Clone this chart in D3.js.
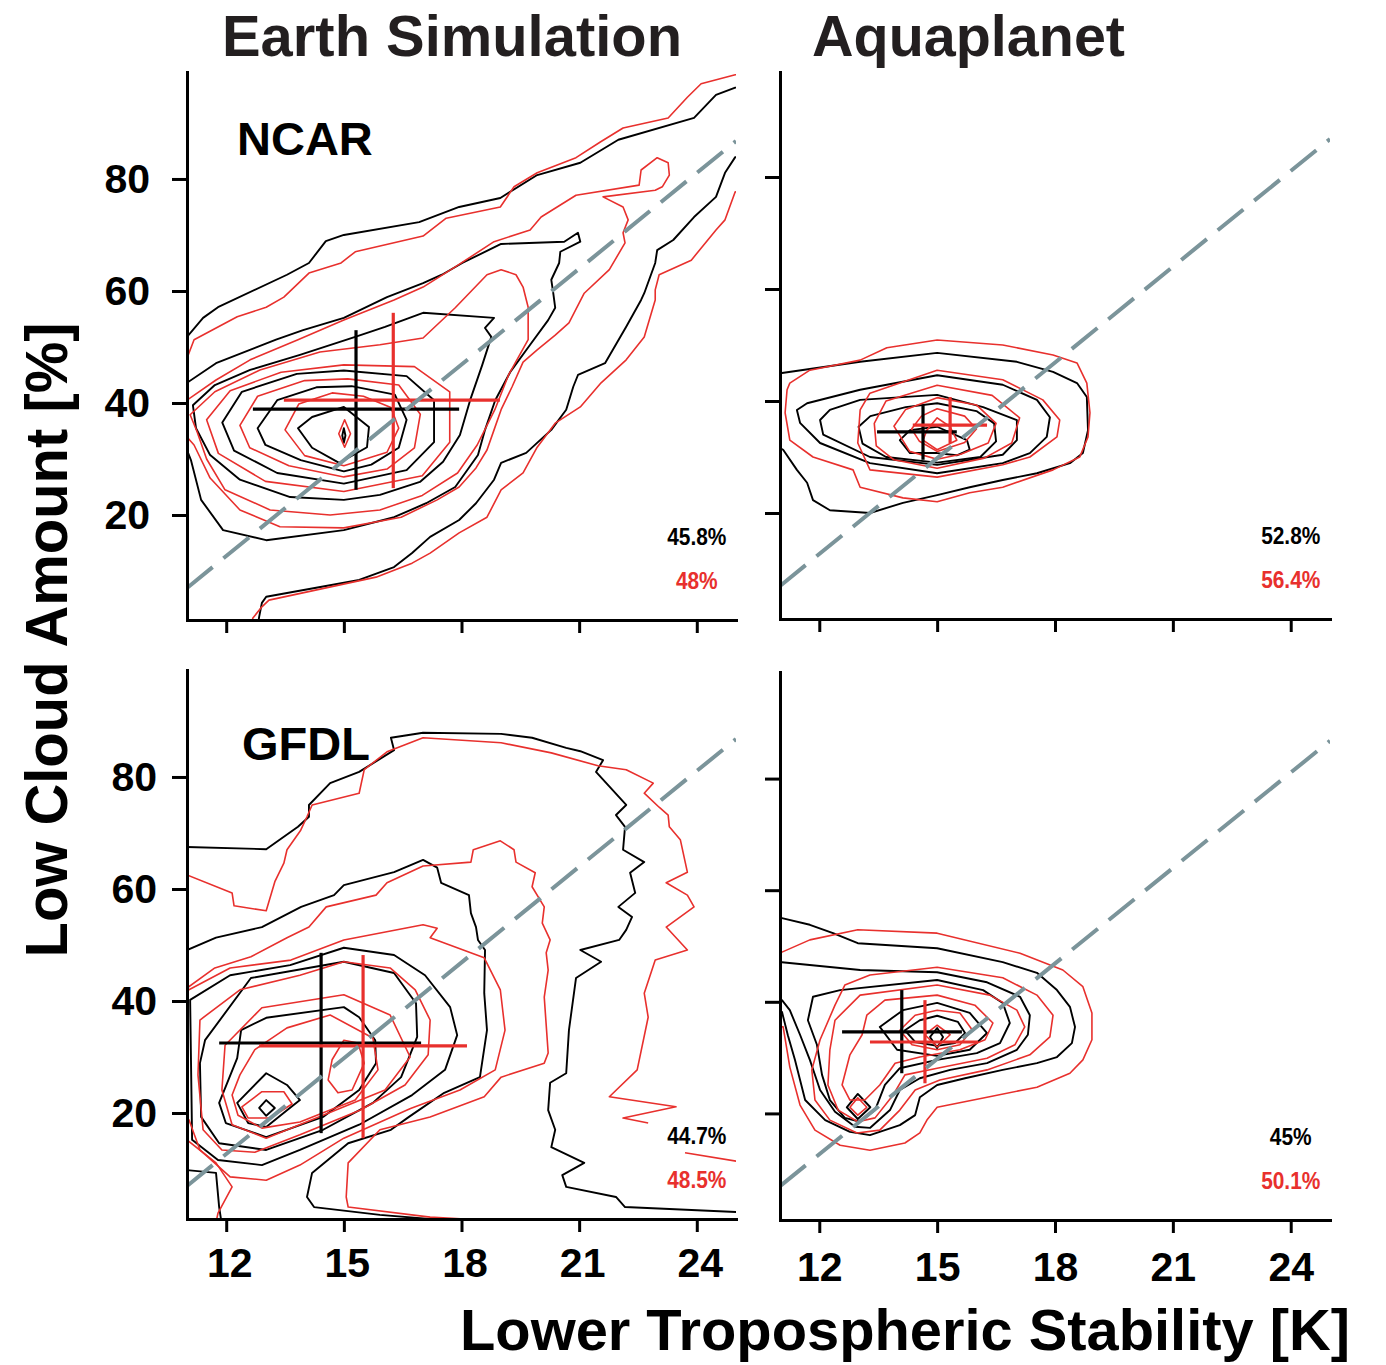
<!DOCTYPE html>
<html>
<head>
<meta charset="utf-8">
<script src="https://cdn.jsdelivr.net/npm/d3@7"></script>
<style>
  body { margin: 0; background: #fff; }
  svg text { font-family: "Liberation Sans", Arial, Helvetica, sans-serif; font-weight: bold; }
</style>
</head>
<body>
<svg id="chart" width="1386" height="1365"></svg>
<script>
// ---------- shared values ----------
var xTicks = [12, 15, 18, 21, 24];
var yTicks = [20, 40, 60, 80];
var columnTitles = ["Earth Simulation", "Aquaplanet"];
var modelNames = ["NCAR", "GFDL"];
var pctBlack = ["45.8%", "52.8%", "44.7%", "45%"];
var pctRed = ["48%", "56.4%", "48.5%", "50.1%"];
// Klein & Hartmann line, end points in (LTS, low cloud)
var klLine = [[11, 6.97], [25, 86.77]];

// crosshairs: [meanLTS, meanLCA, ltsLo, ltsHi, lcaLo, lcaHi]
var crossBlack = [
  [15.31, 38.9, 12.68, 17.94, 24.5, 53.0],
  [14.64, 34.5, 13.47, 15.5, 29.5, 39.3],
  [14.42, 32.5, 11.82, 16.97, 16.4, 48.6],
  [14.1, 34.6, 12.58, 15.63, 27.2, 42.1]
];
var crossRed = [
  [16.26, 40.5, 13.47, 18.98, 24.8, 56.1],
  [15.33, 35.7, 14.38, 16.27, 32.5, 40.7],
  [15.49, 32.0, 12.84, 18.14, 15.5, 48.2],
  [14.69, 32.8, 13.29, 16.04, 25.4, 40.3]
];

// ---------- NCAR, Earth simulation ----------
var ncarEarthBlackLines = [
  [[10.9,51.6],[11.0,51.8],[11.41,55.2],[11.79,57.1],[13.55,62.9],[14.11,65.0],[14.54,68.9],[15.0,70.0],[16.92,72.3],[17.94,75.0],[18.99,76.6],[19.93,80.7],[21.03,82.9],[22.0,87.0],[23.93,90.9],[24.49,95.0],[24.98,96.3],[25.6,97.3]],
  [[25.6,84.0],[24.98,83.9],[24.72,81.1],[24.49,76.8],[23.93,73.2],[23.4,69.1],[22.99,67.3],[22.94,65.0],[22.66,59.6],[22.58,58.4],[22.2,53.6],[21.66,47.1],[20.97,45.0],[20.85,42.9],[20.67,38.8],[20.29,35.2],[19.65,31.1],[19.01,29.3],[18.83,26.3],[18.37,22.1],[17.94,19.1],[17.2,16.1],[16.74,13.2],[16.28,10.7],[15.39,8.4],[13.02,5.4],[12.91,4.3],[12.84,1.8],[12.79,-0.5]],
  [[10.9,43.5],[11.0,43.6],[11.74,47.1],[13.27,51.3],[13.96,53.0],[15.0,55.2],[16.1,58.9],[17.02,61.4],[17.5,62.9],[18.02,65.0],[19.01,68.4],[20.62,68.8],[20.97,70.4],[21.03,68.8],[20.52,67.0],[20.49,65.0],[20.29,62.0],[20.34,59.6],[20.39,57.0],[20.21,54.8],[19.75,50.4],[19.24,45.5],[18.86,40.5],[18.6,35.2],[18.42,30.7],[17.84,25.0],[17.1,22.1],[16.28,19.6],[15.0,17.3],[13.02,15.5],[11.92,17.3],[11.36,22.7],[11.1,29.8],[11.0,31.6],[10.9,31.7]]
];
var ncarEarthBlackRings = [
  [[11.15,39.6],[11.71,43.2],[12.61,45.9],[13.88,48.6],[15.29,51.8],[16.05,53.6],[17.02,56.1],[18.83,55.2],[18.6,53.4],[18.76,51.8],[18.53,46.8],[18.22,40.5],[17.96,34.3],[17.53,29.5],[16.94,25.9],[15.92,23.6],[15.0,22.7],[13.63,23.2],[12.35,26.3],[11.59,30.7],[11.23,35.5]],
  [[11.9,36.5],[12.4,42.0],[13.8,45.2],[15.0,45.8],[16.6,44.8],[17.3,40.5],[17.3,33.0],[16.6,28.0],[15.0,25.6],[13.3,27.5],[12.2,31.5]],
  [[12.8,35.5],[13.3,40.5],[14.3,42.8],[15.2,43.0],[16.3,41.5],[16.6,37.0],[16.4,32.0],[15.7,29.0],[15.0,27.8],[13.9,29.8],[13.0,32.5]],
  [[13.83,35.5],[14.19,37.5],[15.0,39.3],[15.64,35.7],[15.59,32.1],[14.88,29.3],[14.19,32.0]],
  [[15.0,35.5],[15.04,34.2],[15.0,32.9],[14.96,34.2]]
];
var ncarEarthRedLines = [
  [[10.9,47.9],[11.0,48.0],[11.18,51.3],[12.28,55.4],[13.02,57.1],[13.47,58.9],[14.11,63.2],[14.93,65.0],[15.29,67.0],[17.02,69.8],[17.61,73.0],[18.99,75.0],[19.34,78.6],[19.93,81.1],[20.92,83.8],[21.54,86.6],[22.12,89.1],[23.27,90.9],[23.76,94.6],[24.11,97.0],[24.98,98.6],[25.6,99.5]],
  [[25.6,76.6],[24.98,77.7],[24.72,72.7],[24.49,70.9],[23.86,65.5],[23.04,62.9],[22.94,60.2],[22.94,58.4],[22.66,51.8],[22.2,47.7],[21.56,43.6],[21.03,39.3],[20.39,36.4],[19.93,32.1],[19.57,27.5],[19.01,24.5],[18.65,19.6],[17.94,16.8],[17.2,13.2],[16.74,11.4],[15.82,8.9],[13.09,4.8],[12.91,3.6],[12.68,1.6],[12.6,-0.5]],
  [[10.9,40.4],[11.0,40.5],[11.74,44.1],[12.61,47.7],[13.83,51.3],[15.0,54.8],[16.28,58.4],[17.02,60.7],[17.84,64.3],[18.83,68.8],[19.75,70.9],[20.03,73.2],[20.92,77.1],[22.53,78.9],[22.58,81.6],[22.99,83.8],[23.27,82.9],[23.3,80.7],[23.12,78.6],[22.94,78.0],[21.61,76.8],[22.12,75.0],[22.25,72.7],[22.12,70.4],[22.17,68.6],[21.77,63.8],[21.13,59.6],[20.74,54.3],[20.39,52.1],[19.93,49.5],[19.57,47.3],[19.29,42.9],[19.01,38.8],[18.83,35.2],[18.65,31.6],[18.37,28.4],[17.94,25.0],[17.38,22.7],[16.46,19.6],[15.0,17.7],[13.37,17.9],[12.35,20.9],[11.59,26.6],[11.18,32.5],[11.0,33.9],[10.9,34.0]]
];
var ncarEarthRedRings = [
  [[11.08,37.9],[11.71,42.0],[12.86,45.9],[14.39,49.1],[15.92,50.4],[17.02,51.6],[17.84,57.0],[18.65,62.9],[19.01,63.8],[19.39,62.9],[19.57,60.7],[19.7,57.1],[19.7,51.3],[19.2,45.0],[18.85,38.8],[18.4,32.5],[17.9,27.5],[17.0,23.5],[15.92,20.9],[14.65,20.0],[13.12,20.9],[11.97,24.5],[11.5,30.0],[11.25,35.0]],
  [[11.5,37.0],[12.1,42.2],[13.4,45.5],[15.0,46.8],[16.8,46.5],[17.7,42.0],[17.7,33.0],[17.0,27.0],[15.0,24.2],[13.0,26.0],[11.8,31.0]],
  [[12.35,36.0],[12.8,41.2],[14.0,44.0],[15.1,44.3],[16.4,43.2],[16.95,38.0],[16.8,32.0],[16.1,28.2],[15.0,26.8],[13.6,28.8],[12.6,32.0]],
  [[13.5,35.2],[13.85,39.8],[14.7,41.8],[15.5,41.2],[16.2,39.2],[16.4,35.5],[16.1,31.2],[15.0,28.8],[14.0,30.6]],
  [[14.87,34.5],[15.02,37.0],[15.17,34.5],[15.02,32.1]]
];

// ---------- NCAR, Aquaplanet ----------
var ncarAquaBlackLines = [
  [[10.9,45.0],[11.05,45.0],[13.04,47.0],[15.0,48.6],[17.03,47.0],[17.95,45.2],[18.56,43.2],[18.81,40.7],[18.84,34.8],[18.71,30.7],[18.38,28.9],[17.54,27.1],[16.67,25.9],[15.83,24.6],[15.0,23.2],[14.13,21.8],[13.29,20.0],[12.27,20.5],[11.84,22.3],[11.69,25.4],[11.43,27.7],[11.08,31.3],[10.9,32.0]]
];
var ncarAquaBlackRings = [
  [[11.43,38.4],[11.69,39.6],[13.04,42.0],[15.0,44.6],[16.67,42.9],[17.54,40.2],[17.87,37.1],[17.79,33.6],[17.36,30.7],[16.67,28.9],[15.0,27.1],[13.29,28.9],[12.02,32.5],[11.51,36.1]],
  [[12.02,36.6],[12.27,38.4],[13.04,40.2],[15.0,41.1],[16.17,38.9],[17.03,36.6],[17.03,33.0],[16.67,30.4],[15.0,28.6],[13.29,30.0],[12.1,34.0]],
  [[13.0,35.4],[13.3,37.3],[14.2,38.9],[15.0,39.6],[16.0,38.2],[16.45,36.0],[16.5,32.8],[16.1,30.0],[15.0,29.0],[13.7,30.0],[13.1,32.4]],
  [[14.05,33.0],[14.31,34.8],[15.0,35.4],[15.76,33.0],[15.83,31.3],[15.5,30.3],[15.0,30.7],[14.31,30.7]]
];
var ncarAquaRedLines = [];
var ncarAquaRedRings = [
  [[11.25,43.2],[11.76,45.5],[13.04,47.3],[13.72,49.5],[15.0,50.9],[16.67,50.0],[17.95,48.2],[18.56,46.8],[18.81,43.2],[18.89,37.9],[18.84,33.6],[18.63,30.0],[17.95,27.7],[16.67,24.6],[15.83,23.6],[15.0,22.0],[14.13,22.7],[13.04,24.6],[12.86,27.7],[11.84,30.0],[11.25,33.0],[11.13,37.9],[11.18,42.0]],
  [[13.04,38.4],[13.29,41.4],[15.0,45.5],[16.67,43.8],[17.69,40.2],[18.12,36.6],[18.05,33.6],[17.36,30.0],[16.67,28.6],[15.0,26.4],[13.29,27.7],[12.98,32.5]],
  [[13.4,36.0],[13.7,40.0],[15.0,42.8],[16.4,41.0],[17.1,37.0],[16.9,32.5],[16.2,29.8],[15.0,28.0],[13.9,29.5],[13.45,32.0]],
  [[13.9,35.5],[14.2,38.5],[15.0,40.6],[16.0,39.3],[16.5,36.0],[16.3,32.5],[15.6,30.5],[15.0,29.6],[14.3,31.0]],
  [[14.35,35.0],[14.6,37.3],[15.0,38.6],[15.7,37.3],[16.0,35.0],[15.7,32.6],[15.0,31.0],[14.55,32.8]],
  [[14.74,34.8],[15.0,37.0],[15.33,35.4],[15.5,33.0],[15.0,31.3],[14.64,33.0]]
];

// ---------- GFDL, Earth simulation ----------
var gfdlEarthBlackLines = [
  [[10.9,67.5],[11.0,67.5],[13.02,67.1],[13.83,71.1],[14.11,72.9],[14.11,75.0],[14.65,78.9],[15.39,80.9],[16.28,84.8],[16.2,87.0],[17.02,87.9],[19.01,87.7],[19.8,87.0],[20.67,85.2],[21.03,84.6],[21.61,83.0],[21.43,80.9],[22.2,75.0],[21.94,73.2],[22.17,71.1],[22.12,67.0],[22.66,64.8],[22.3,62.9],[22.43,59.3],[22.0,56.8],[22.35,55.0],[22.2,52.7],[22.02,50.9],[21.03,49.1],[21.56,47.0],[20.92,44.1],[20.74,34.8],[20.67,27.1],[20.26,25.4],[20.21,20.5],[20.39,17.0],[20.29,13.9],[21.13,11.1],[20.57,8.9],[20.67,6.8],[21.94,5.0],[22.17,3.2],[25.03,2.3],[25.5,2.2]],
  [[10.9,49.2],[11.0,49.1],[11.74,51.3],[12.91,53.2],[13.91,56.8],[14.75,58.9],[15.0,60.7],[16.28,63.0],[17.02,65.2],[17.38,63.8],[17.48,61.1],[18.19,58.9],[18.24,55.7],[18.37,53.2],[18.42,50.9],[18.6,49.1],[18.58,41.4],[18.65,34.8],[18.47,26.4],[17.56,23.6],[16.66,19.3],[16.2,17.0],[15.11,14.6],[14.19,9.3],[14.06,5.0],[14.24,3.2],[15.92,1.8],[18.2,0.5]],
  [[10.9,9.8],[11.0,9.8],[11.74,9.3],[11.82,3.2],[11.9,-0.5]]
];
var gfdlEarthBlackRings = [
  [[11.08,40.2],[12.1,44.6],[13.63,46.4],[15.0,49.5],[16.28,48.2],[17.07,44.6],[17.71,38.9],[17.89,33.9],[17.58,27.7],[16.74,23.2],[15.39,17.9],[13.88,13.4],[12.91,10.7],[11.79,11.6],[11.13,15.2]],
  [[11.46,33.0],[12.63,44.1],[15.0,47.0],[16.28,45.0],[16.84,39.6],[16.87,33.6],[16.46,26.4],[15.74,21.8],[14.47,17.0],[13.02,13.4],[11.82,14.6],[11.36,19.3],[11.33,28.9]],
  [[12.38,34.8],[13.02,37.0],[15.0,38.9],[15.39,37.1],[15.8,33.0],[15.82,28.9],[15.39,24.1],[14.47,19.3],[13.02,15.7],[11.99,18.2],[11.82,21.8],[12.28,29.8]],
  [[12.28,21.8],[13.02,27.1],[13.55,25.0],[13.88,22.3],[13.55,20.5],[13.02,17.5],[12.56,18.2]],
  [[12.84,20.9],[13.02,22.3],[13.24,20.9],[13.02,19.5]]
];
var gfdlEarthRedLines = [
  [[10.9,62.7],[11.0,62.5],[12.15,59.3],[12.2,57.0],[13.02,56.1],[13.24,61.3],[13.47,64.6],[13.55,67.0],[13.9,70.5],[14.06,72.9],[14.19,75.0],[15.39,77.1],[15.52,81.3],[16.1,84.5],[17.02,87.0],[19.01,86.1],[20.29,84.3],[21.48,82.0],[22.2,81.3],[22.89,78.9],[22.66,77.1],[23.04,74.6],[23.27,73.2],[23.3,71.1],[23.58,68.8],[23.76,63.0],[23.22,61.1],[23.76,58.9],[23.93,56.8],[23.22,53.2],[23.76,49.1],[22.94,47.3],[22.66,41.4],[22.76,37.1],[22.48,27.7],[21.77,22.9],[23.47,21.1],[22.12,19.1],[22.76,18.2]],
  [[23.7,12.9],[25.1,11.3]],
  [[10.9,42.4],[11.0,42.3],[11.71,45.9],[12.63,47.9],[13.55,51.3],[14.11,53.2],[14.55,56.8],[15.82,58.9],[16.1,61.1],[17.02,64.1],[18.24,64.8],[18.3,67.0],[18.99,68.6],[19.34,67.0],[19.39,64.8],[19.88,62.9],[19.8,60.4],[20.11,56.8],[20.06,53.9],[20.26,50.9],[20.16,48.6],[20.21,45.5],[20.11,40.7],[20.21,30.7],[20.11,28.9],[19.01,26.4],[18.58,22.9],[17.2,19.3],[15.92,17.0],[15.11,11.1],[15.06,5.0],[15.11,3.2],[17.2,1.4],[19.5,0.5]],
  [[10.9,15.3],[11.0,15.2],[11.74,11.1],[12.15,6.8],[11.79,2.1],[11.71,-0.5]],
  [[10.9,42.1],[11.05,42.0],[12.1,45.9],[13.65,47.3],[15.0,50.9],[17.02,53.6],[17.38,53.0],[17.2,51.3],[18.58,47.7],[18.99,42.0],[19.11,34.8],[18.86,27.7],[17.96,24.1],[16.7,20.8],[15.0,15.5],[13.88,10.7],[13.02,8.0],[12.1,8.6],[11.33,13.4],[11.05,18.8],[10.9,19.0]]
];
var gfdlEarthRedRings = [
  [[11.33,36.6],[12.35,42.0],[13.88,44.6],[15.0,47.0],[16.18,45.9],[16.82,42.0],[17.2,36.6],[17.15,30.4],[16.56,25.0],[15.41,20.5],[13.88,16.1],[12.73,13.0],[11.89,13.4],[11.41,17.0],[11.28,26.8]],
  [[11.97,32.1],[12.91,38.8],[15.0,41.1],[16.18,37.5],[16.69,30.0],[16.05,24.1],[14.47,19.6],[13.02,15.5],[12.15,17.9],[11.89,24.1]],
  [[12.35,26.8],[12.73,31.3],[13.55,35.2],[14.65,37.5],[15.74,33.4],[15.87,27.7],[15.29,22.3],[13.88,18.4],[12.91,17.3],[12.3,19.6],[12.15,23.2]],
  [[14.7,29.5],[15.0,33.0],[15.36,32.5],[15.52,28.9],[15.21,24.1],[14.85,23.6],[14.6,25.9]],
  [[12.4,21.1],[12.91,23.8],[13.47,23.8],[13.68,21.6],[13.12,19.1],[12.56,19.1]]
];

// ---------- GFDL, Aquaplanet ----------
var gfdlAquaBlackLines = [
  [[10.9,55.2],[11.05,55.0],[11.76,53.8],[12.35,52.3],[12.98,50.5],[15.0,49.6],[16.67,47.1],[17.54,45.2],[18.05,42.1],[18.38,39.1],[18.51,35.5],[18.43,32.6],[18.05,30.1],[17.54,29.0],[16.67,27.8],[15.71,26.3],[15.0,25.1],[14.56,22.9],[14.44,19.7],[14.05,17.9],[13.29,16.1],[12.78,16.7],[12.15,18.8],[11.64,22.4],[11.38,29.6],[11.2,34.0],[11.05,38.2],[10.9,38.3]],
  [[10.9,47.2],[11.05,47.1],[13.04,45.7],[15.0,45.3],[16.27,43.5],[17.11,40.9],[17.36,37.6],[17.31,34.1],[17.03,31.4],[16.27,29.0],[15.33,27.8],[14.56,26.3],[14.05,24.2],[13.8,20.6],[13.29,17.4],[12.91,17.6],[12.4,20.3],[12.02,24.2],[11.76,29.6],[11.51,34.1],[11.25,38.5],[11.05,40.3],[10.9,40.4]]
];
var gfdlAquaBlackRings = [
  [[11.84,40.9],[12.53,42.1],[15.0,43.9],[16.17,42.1],[16.67,39.8],[16.85,36.2],[16.6,32.6],[16.01,30.8],[15.0,29.6],[14.05,28.1],[13.67,25.1],[13.42,20.6],[13.04,18.5],[12.65,19.2],[12.27,22.4],[12.07,26.9],[11.94,32.3],[11.71,36.7]],
  [[13.54,35.5],[14.13,38.5],[15.0,39.8],[15.83,38.0],[16.27,34.4],[15.83,31.4],[15.0,30.3],[13.98,31.4]],
  [[14.18,34.9],[14.56,36.7],[15.0,37.5],[15.53,36.4],[15.71,34.4],[15.45,32.6],[15.0,32.1],[14.44,32.8]],
  [[14.82,33.7],[15.0,35.3],[15.15,33.7],[15.0,31.7]],
  [[12.7,21.1],[12.98,23.5],[13.3,21.1],[12.98,19.0]]
];
var gfdlAquaRedLines = [
  [[10.9,48.8],[11.05,48.9],[11.76,51.1],[12.98,52.9],[15.0,52.3],[17.11,48.7],[18.2,45.7],[18.71,42.7],[18.94,38.0],[18.94,33.2],[18.71,29.6],[18.38,27.2],[17.54,24.7],[16.27,22.9],[15.0,21.1],[14.74,18.8],[14.56,16.5],[14.18,14.7],[13.29,13.4],[12.53,14.3],[11.89,17.0],[11.51,21.5],[11.25,28.3],[11.08,35.5],[10.9,35.6]]
];
var gfdlAquaRedRings = [
  [[12.65,43.0],[13.29,44.8],[15.0,46.2],[16.67,44.3],[17.54,41.2],[17.95,37.6],[17.87,33.7],[17.36,30.5],[16.27,27.8],[15.07,26.0],[14.44,24.2],[14.05,20.6],[13.54,17.0],[12.96,16.5],[12.27,18.8],[11.89,22.4],[11.81,27.8],[12.02,33.2],[12.4,39.4]],
  [[12.4,36.7],[13.04,41.2],[15.0,43.0],[16.34,41.2],[17.03,38.5],[17.23,35.5],[16.98,32.3],[16.27,29.9],[15.0,28.1],[14.18,26.9],[13.88,23.3],[13.42,19.2],[12.98,18.5],[12.48,20.6],[12.22,25.1],[12.27,31.4]],
  [[13.21,37.6],[13.67,40.3],[15.0,41.2],[15.96,39.4],[16.42,36.2],[16.22,33.2],[15.58,31.4],[14.56,30.1],[13.93,29.0],[13.54,25.1],[13.16,22.4],[12.78,22.4],[12.58,25.1],[12.78,30.5],[13.09,34.1]],
  [[14.05,34.9],[14.44,37.6],[15.0,38.5],[15.58,38.0],[15.89,35.0],[15.58,32.3],[15.0,31.4],[14.36,32.3]],
  [[14.69,34.1],[15.0,35.8],[15.33,34.1],[15.0,31.9]],
  [[12.78,21.1],[12.98,22.8],[13.21,21.1],[12.98,19.7]]
];

// ---------- layout ----------
var panels = [
  { left: 187, right: 736, top: 72, bottom: 620, yLo: 1.25, yHi: 99.1, yLabels: true, xLabels: false, yPad: 22, xPad: 16, dx: 0 },
  { left: 780, right: 1330, top: 72, bottom: 619, yLo: 1.07, yHi: 98.75, yLabels: false, xLabels: false, yPad: 22, xPad: 16, dx: 0 },
  { left: 187, right: 736, top: 670, bottom: 1219, yLo: 1.07, yHi: 99.1, yLabels: true, xLabels: true, yPad: 15, xPad: 16, dx: 3 },
  { left: 780, right: 1330, top: 672, bottom: 1220, yLo: 0.9, yHi: 99.1, yLabels: false, xLabels: true, yPad: 15, xPad: 19, dx: 0 }
];
var contourSets = [
  { bl: ncarEarthBlackLines, br: ncarEarthBlackRings, rl: ncarEarthRedLines, rr: ncarEarthRedRings },
  { bl: ncarAquaBlackLines, br: ncarAquaBlackRings, rl: ncarAquaRedLines, rr: ncarAquaRedRings },
  { bl: gfdlEarthBlackLines, br: gfdlEarthBlackRings, rl: gfdlEarthRedLines, rr: gfdlEarthRedRings },
  { bl: gfdlAquaBlackLines, br: gfdlAquaBlackRings, rl: gfdlAquaRedLines, rr: gfdlAquaRedRings }
];

var INK = "#000000", RED = "#e8302d", SLATE = "#7b949a", TITLE = "#231f20";
var FONT = '"Liberation Sans", Arial, Helvetica, sans-serif';

var svg = d3.select("#chart");
var defs = svg.append("defs");

panels.forEach(function(p, i) {
  var x = d3.scaleLinear().domain([11, 25]).range([p.left, p.right]);
  var y = d3.scaleLinear().domain([p.yLo, p.yHi]).range([p.bottom, p.top]);
  var openLine = d3.line().x(d => x(d[0])).y(d => y(d[1]));
  var ringLine = d3.line().x(d => x(d[0])).y(d => y(d[1])).curve(d3.curveLinearClosed);

  defs.append("clipPath").attr("id", "clip" + i)
    .append("rect")
    .attr("x", p.left).attr("y", p.top - 4)
    .attr("width", p.right - p.left).attr("height", p.bottom - p.top + 4);

  var plot = svg.append("g").attr("clip-path", "url(#clip" + i + ")");
  var set = contourSets[i];

  // contours: black first, red on top
  [[set.bl, set.br, INK, 1.9], [set.rl, set.rr, RED, 1.6]].forEach(function(s) {
    plot.selectAll(null).data(s[0]).enter().append("path")
      .attr("d", openLine)
      .attr("fill", "none").attr("stroke", s[2]).attr("stroke-width", s[3])
      .attr("stroke-linejoin", "round");
    plot.selectAll(null).data(s[1]).enter().append("path")
      .attr("d", ringLine)
      .attr("fill", "none").attr("stroke", s[2]).attr("stroke-width", s[3])
      .attr("stroke-linejoin", "round");
  });

  // mean +/- spread crosses
  [[crossBlack[i], INK], [crossRed[i], RED]].forEach(function(c) {
    var v = c[0];
    plot.append("line")
      .attr("x1", x(v[2])).attr("x2", x(v[3]))
      .attr("y1", y(v[1])).attr("y2", y(v[1]))
      .attr("stroke", c[1]).attr("stroke-width", 3.2);
    plot.append("line")
      .attr("x1", x(v[0])).attr("x2", x(v[0]))
      .attr("y1", y(v[4])).attr("y2", y(v[5]))
      .attr("stroke", c[1]).attr("stroke-width", 3.2);
  });

  // Klein-Hartmann reference line
  plot.append("path").datum(klLine)
    .attr("d", openLine)
    .attr("fill", "none").attr("stroke", SLATE)
    .attr("stroke-width", 4).attr("stroke-dasharray", "33,14");

  // axes
  var yAxis = d3.axisLeft(y).tickValues(yTicks).tickSize(15).tickSizeOuter(0).tickPadding(p.yPad);
  if (!p.yLabels) yAxis.tickFormat("");
  var gy = svg.append("g").attr("transform", "translate(" + p.left + ",0)").call(yAxis);

  var xAxis = d3.axisBottom(x).tickValues(xTicks).tickSize(13).tickSizeOuter(0).tickPadding(p.xPad);
  if (!p.xLabels) xAxis.tickFormat("");
  var gx = svg.append("g").attr("transform", "translate(0," + p.bottom + ")").call(xAxis);
  gx.selectAll(".tick text").attr("dx", p.dx);

  [gx, gy].forEach(function(g) {
    g.attr("font-family", FONT).attr("font-size", 41).attr("font-weight", "bold");
    g.select(".domain").attr("stroke", INK).attr("stroke-width", 3).attr("stroke-linecap", "square");
    g.selectAll(".tick line").attr("stroke", INK).attr("stroke-width", 3);
    g.selectAll(".tick text").attr("fill", INK);
  });

  // fraction labels (slightly condensed like the original face)
  svg.append("text")
    .attr("transform", "translate(" + x(24) + "," + (p.bottom - 75) + ") scale(0.87,1)")
    .attr("text-anchor", "middle").attr("font-size", 24).attr("fill", INK)
    .text(pctBlack[i]);
  svg.append("text")
    .attr("transform", "translate(" + x(24) + "," + (p.bottom - 31) + ") scale(0.87,1)")
    .attr("text-anchor", "middle").attr("font-size", 24).attr("fill", RED)
    .text(pctRed[i]);
});

// model names inside left panels
svg.append("text").attr("x", 237).attr("y", 155).attr("font-size", 47).attr("fill", INK).text(modelNames[0]);
svg.append("text").attr("x", 242).attr("y", 760).attr("font-size", 47).attr("fill", INK).text(modelNames[1]);

// column titles
svg.append("text").attr("x", 222).attr("y", 56).attr("font-size", 58).attr("fill", TITLE)
  .attr("textLength", 460).attr("lengthAdjust", "spacingAndGlyphs").text(columnTitles[0]);
svg.append("text").attr("x", 812).attr("y", 56).attr("font-size", 58).attr("fill", TITLE)
  .attr("textLength", 313).attr("lengthAdjust", "spacingAndGlyphs").text(columnTitles[1]);

// axis titles
svg.append("text")
  .attr("transform", "translate(67,640) rotate(-90)")
  .attr("text-anchor", "middle").attr("font-size", 59).attr("fill", INK)
  .attr("textLength", 635).attr("lengthAdjust", "spacingAndGlyphs")
  .text("Low Cloud Amount [%]");
svg.append("text")
  .attr("x", 460).attr("y", 1350)
  .attr("font-size", 57).attr("fill", INK)
  .attr("textLength", 890).attr("lengthAdjust", "spacingAndGlyphs")
  .text("Lower Tropospheric Stability [K]");
</script>
</body>
</html>
